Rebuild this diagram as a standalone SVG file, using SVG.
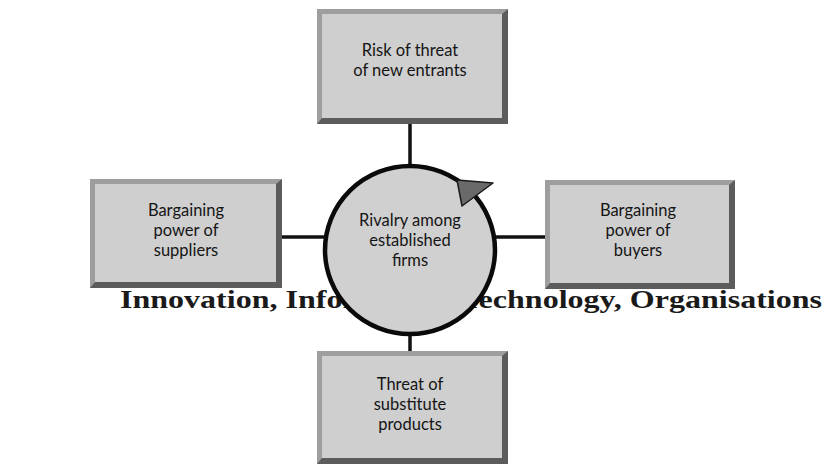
<svg xmlns="http://www.w3.org/2000/svg" width="825" height="464" viewBox="0 0 825 464">
<style>
.frame{fill:#9e9e9e}
.shade{fill:#5c5c5c}
.face{fill:#cfcfcf}
.lbl{font-family:Lato,"Open Sans","Liberation Sans",sans-serif;font-size:16.5px;fill:#151515;text-anchor:middle}
.conn{stroke:#111;stroke-width:3.5;fill:none}
.wm{font-family:"Liberation Serif","DejaVu Serif",serif;font-weight:bold;font-size:25px;fill:#1a1a1a}
</style>
<rect width="825" height="464" fill="#ffffff"/>
<text class="wm" x="120" y="308" textLength="702" lengthAdjust="spacingAndGlyphs">Innovation, Information Technology, Organisations</text>
<g id="connectors">
<line class="conn" x1="410" y1="124" x2="410" y2="166"/>
<line class="conn" x1="410" y1="334" x2="410" y2="351"/>
<line class="conn" x1="282" y1="237" x2="326" y2="237"/>
<line class="conn" x1="494" y1="237" x2="545" y2="237"/>
</g>
<g id="node-top">
<rect class="frame" x="317" y="9" width="191" height="115"/>
<polygon class="shade" points="508,9 508,124 317,124 322,118 502,118 502,14"/>
<rect class="face" x="322" y="14" width="180" height="104"/>
<text class="lbl" x="410" y="56">Risk of threat</text>
<text class="lbl" x="410" y="76">of new entrants</text>
</g>
<g id="node-left">
<rect class="frame" x="90" y="179" width="192" height="109"/>
<polygon class="shade" points="282,179 282,288 90,288 95,282 276,282 276,184"/>
<rect class="face" x="95" y="184" width="181" height="98"/>
<text class="lbl" x="186" y="216">Bargaining</text>
<text class="lbl" x="186" y="236">power of</text>
<text class="lbl" x="186" y="256">suppliers</text>
</g>
<g id="node-right">
<rect class="frame" x="545" y="180" width="190" height="109"/>
<polygon class="shade" points="735,180 735,289 545,289 550,283 729,283 729,185"/>
<rect class="face" x="550" y="185" width="179" height="98"/>
<text class="lbl" x="638" y="216">Bargaining</text>
<text class="lbl" x="638" y="236">power of</text>
<text class="lbl" x="638" y="256">buyers</text>
</g>
<g id="node-bottom">
<rect class="frame" x="317" y="351" width="191" height="113"/>
<polygon class="shade" points="508,351 508,464 317,464 322,458 502,458 502,356"/>
<rect class="face" x="322" y="356" width="180" height="102"/>
<text class="lbl" x="410" y="390">Threat of</text>
<text class="lbl" x="410" y="410">substitute</text>
<text class="lbl" x="410" y="430">products</text>
</g>
<g id="node-center">
<ellipse cx="410" cy="250" rx="85" ry="84" fill="#d0d0d0" stroke="#0a0a0a" stroke-width="4.5"/>
<polygon points="457,180 493,183 462,206" fill="#6a6a6a" stroke="#1a1a1a" stroke-width="1.5" stroke-linejoin="round"/>
<text class="lbl" x="410" y="226">Rivalry among</text>
<text class="lbl" x="410" y="246">established</text>
<text class="lbl" x="410" y="266">firms</text>
</g>
</svg>
